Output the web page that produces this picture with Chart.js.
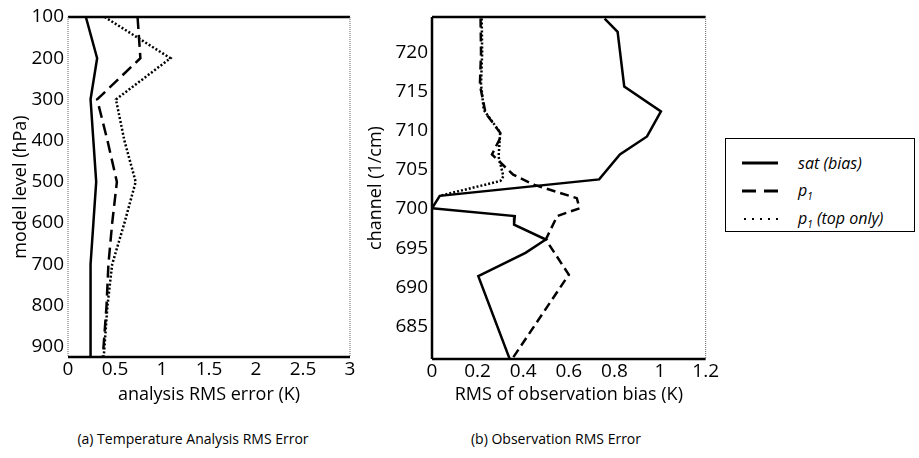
<!DOCTYPE html>
<html>
<head>
<meta charset="utf-8">
<script src="https://cdn.jsdelivr.net/npm/chart.js@4/dist/chart.umd.min.js"></script>
<style>
  body { margin: 0; background: #fff; font-family: "Open Sans", sans-serif; }
  #wrap { position: relative; width: 919px; height: 458px; overflow: hidden; }
  canvas { position: absolute; top: 0; }
  #chartA { left: 0; }
  #chartB { left: 360px; }
  .cap { position: absolute; top: 429px; font-size: 14px; color: #000; white-space: nowrap; transform: translateX(-50%); }
  #legend { position: absolute; left: 725px; top: 138px; width: 190px; height: 94px; border: 1.5px solid #000; box-sizing: border-box; }
  .row { position: absolute; left: 0; height: 24px; display: flex; align-items: center; }
  .row svg { margin-left: 16px; }
  .row span { margin-left: 20px; font-style: italic; font-size: 16px; color: #000; }
</style>
</head>
<body>
<div id="wrap">
  <canvas id="chartA" width="360" height="420"></canvas>
  <canvas id="chartB" width="360" height="420"></canvas>
  <div id="legend">
    <div class="row" style="top:12px"><svg width="36" height="6"><line x1="0" y1="3" x2="36" y2="3" stroke="#000" stroke-width="3"/></svg><span>sat (bias)</span></div>
    <div class="row" style="top:40px"><svg width="36" height="6"><line x1="0" y1="3" x2="36" y2="3" stroke="#000" stroke-width="3" stroke-dasharray="14,8"/></svg><span>p<sub style="font-size:10px">1</sub></span></div>
    <div class="row" style="top:68px"><svg width="36" height="6"><line x1="2" y1="3" x2="36" y2="3" stroke="#000" stroke-width="2" stroke-dasharray="2,6"/></svg><span>p<sub style="font-size:10px">1</sub> (top only)</span></div>
  </div>
  <div class="cap" style="left:193px">(a) Temperature Analysis RMS Error</div>
  <div class="cap" style="left:556px">(b) Observation RMS Error</div>
</div>
<script>
// (a) temperature analysis RMS error by model level
const levelsA = [100, 200, 300, 400, 500, 600, 700, 800, 925];
const satA = [0.19, 0.31, 0.24, 0.27, 0.30, 0.27, 0.24, 0.24, 0.24];
const p1A = [0.74, 0.77, 0.31, 0.42, 0.52, 0.47, 0.43, 0.41, 0.37];
const topA = [0.39, 1.09, 0.51, 0.60, 0.72, 0.60, 0.47, 0.42, 0.38];
const xTicksA = [0, 0.5, 1, 1.5, 2, 2.5, 3];
const yTicksA = [100, 200, 300, 400, 500, 600, 700, 800, 900];

// (b) observation RMS error by channel
const chanSat = [724.4, 722.7, 715.7, 712.5, 709.3, 707.0, 703.8, 701.7, 700.1, 699.1, 698.0, 696.1, 694.4, 691.4, 680.7];
const satB = [0.757, 0.814, 0.843, 1.004, 0.943, 0.824, 0.733, 0.034, 0.0, 0.363, 0.36, 0.499, 0.41, 0.203, 0.342];
const chanP1 = [724.4, 720, 715.9, 712.3, 709.5, 707.0, 704.4, 703.1, 701.4, 700.1, 699.1, 696.1, 691.6, 680.7];
const p1B = [0.213, 0.215, 0.21, 0.235, 0.306, 0.263, 0.356, 0.449, 0.635, 0.647, 0.549, 0.499, 0.60, 0.349];
const chanTop = [724.4, 720, 716, 712.7, 709.8, 706.7, 704.2, 703.6, 701.7];
const topB = [0.218, 0.22, 0.215, 0.227, 0.299, 0.292, 0.313, 0.30, 0.034];
const xTicksB = [0, 0.2, 0.4, 0.6, 0.8, 1, 1.2];
const yTicksB = [685, 690, 695, 700, 705, 710, 715, 720];

const pts = (xs, ys) => xs.map((x, i) => ({ x: x, y: ys[i] }));

// draws the box round the plot area, each side with its own style
const framePlugin = {
  id: 'frame',
  afterDatasetsDraw(chart, args, opts) {
    const { left, right, top, bottom } = chart.chartArea;
    const ctx = chart.ctx;
    const sides = {
      top: [left, top, right, top],
      bottom: [left, bottom, right, bottom],
      left: [left, top, left, bottom],
      right: [right, top, right, bottom]
    };
    for (const k in sides) {
      const s = sides[k];
      ctx.save();
      if (opts[k] === 'solid') {
        ctx.strokeStyle = '#000';
        ctx.lineWidth = 2.5;
        ctx.setLineDash([]);
      } else {
        ctx.strokeStyle = '#666';
        ctx.lineWidth = 1;
        ctx.setLineDash([1, 1]);
      }
      ctx.beginPath();
      ctx.moveTo(s[0], s[1]);
      ctx.lineTo(s[2], s[3]);
      ctx.stroke();
      ctx.restore();
    }
  }
};

function line(data, dash, width) {
  return {
    data: data,
    showLine: true,
    borderColor: '#000',
    backgroundColor: '#000',
    borderWidth: width,
    borderDash: dash,
    pointRadius: 0,
    tension: 0
  };
}

function axis(min, max, ticks, title, fit, titlePad, tickPad, reverse) {
  return {
    type: 'linear',
    min: min,
    max: max,
    reverse: !!reverse,
    grid: { display: false, drawTicks: false },
    border: { display: false },
    afterBuildTicks: (s) => { s.ticks = ticks.map(v => ({ value: v })); },
    afterFit: fit,
    ticks: {
      color: '#000',
      font: { family: 'Open Sans', size: 19 },
      padding: tickPad,
      callback: (v) => String(v)
    },
    title: {
      display: true,
      text: title,
      color: '#000',
      font: { family: 'Open Sans', size: 18 },
      padding: titlePad
    }
  };
}

function makeChart(id, datasets, xAx, yAx, pad, frame) {
  return new Chart(document.getElementById(id), {
    type: 'scatter',
    data: { datasets: datasets },
    options: {
      responsive: false,
      animation: false,
      devicePixelRatio: 1,
      layout: { padding: pad },
      plugins: { legend: { display: false }, tooltip: { enabled: false }, frame: frame },
      scales: { x: xAx, y: yAx }
    },
    plugins: [framePlugin]
  });
}

makeChart('chartA',
  [
    line(pts(satA, levelsA), [], 2.5),
    line(pts(p1A, levelsA), [12, 6], 2.5),
    line(pts(topA, levelsA), [2, 2], 2.5)
  ],
  axis(0, 3, xTicksA, 'analysis RMS error (K)', (s) => { s.height = 63; }, { top: 0, bottom: 14 }, 1),
  axis(100, 925, yTicksA, 'model level (hPa)', (s) => { s.width = 68; }, { top: 10, bottom: 0 }, 4, true),
  { top: 17, right: 10, left: 0, bottom: 0 },
  { top: 'solid', bottom: 'solid', left: 'dotted', right: 'dotted' }
);

makeChart('chartB',
  [
    line(pts(satB, chanSat), [], 2.5),
    line(pts(p1B, chanP1), [9, 5], 2.5),
    line(pts(topB, chanTop), [2, 2], 2.5)
  ],
  axis(0, 1.2, xTicksB, 'RMS of observation bias (K)', (s) => { s.height = 61; }, { top: 0, bottom: 14 }, 1),
  axis(680.8, 724.6, yTicksB, 'channel (1/cm)', (s) => { s.width = 72; }, { top: 5, bottom: 0 }, 4),
  { top: 17, right: 12, left: 0, bottom: 0 },
  { top: 'solid', bottom: 'solid', left: 'solid', right: 'dotted' }
);
</script>
</body>
</html>
